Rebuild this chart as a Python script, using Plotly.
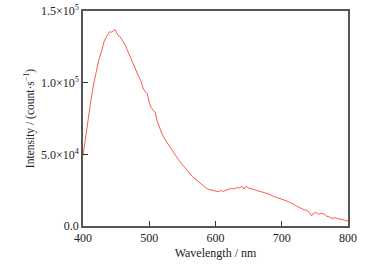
import plotly.graph_objects as go

wavelength = [400, 404, 408, 412, 416, 420, 424, 428, 432, 436, 440, 443, 446, 448, 450, 453, 456, 460, 464, 468,
              472, 476, 480, 484, 488, 491, 494, 497, 500, 503, 506, 509, 512, 516, 520, 525, 530, 535, 540, 545,
              550, 555, 560, 565, 570, 575, 580, 585, 590, 595, 600, 604, 608, 612, 616, 620, 624, 628, 632, 636,
              640, 643, 646, 650, 654, 658, 662, 666, 670, 674, 678, 682, 686, 690, 694, 698, 702, 706, 710, 714,
              718, 722, 726, 730, 734, 738, 742, 745, 748, 752, 756, 760, 764, 768, 772, 776, 780, 784, 788, 792,
              796, 800]
intensity = [49000, 63000, 76000, 88000, 99000, 108000, 116000, 122000, 129000, 132500, 135500, 135200, 136000, 137200, 135500, 133000, 132000, 129000, 126000, 121500,
             116800, 112500, 108600, 104500, 100500, 95500, 93500, 92300, 86000, 82500, 80800, 79400, 73000, 67500, 63500, 59600, 56000, 52600, 49000, 45600,
             42800, 39700, 37300, 34500, 32600, 30400, 28500, 26800, 25500, 24800, 24500, 24000, 24700, 24200, 25000, 25400, 26300, 25800, 26800, 26500,
             27600, 25800, 27700, 26500, 26000, 25300, 25000, 24600, 24000, 23500, 22600, 22100, 21000, 20400, 19500, 19300, 18200, 18000, 17000, 16000,
             15300, 14000, 13000, 12400, 11200, 11000, 9500, 7000, 9000, 9300, 8200, 8800, 8300, 6800, 6300, 5200, 5800, 5200, 4800, 4500,
             4200, 3500]

xtick_vals = [400, 500, 600, 700, 800]
ytick_vals = [0, 50000, 100000, 150000]
ytick_text = ["0.0", "5.0×10<sup>4</sup>", "1.0×10<sup>5</sup>", "1.5×10<sup>5</sup>"]

fig = go.Figure()
fig.add_trace(go.Scatter(x=wavelength, y=intensity, mode="lines",
                         line=dict(color="#ff5a4e", width=1), showlegend=False))

font = dict(family="Liberation Serif, Times New Roman, serif", size=12, color="#222")
fig.update_layout(
    width=390, height=271,
    margin=dict(l=83, r=42, t=11, b=45),
    paper_bgcolor="white", plot_bgcolor="white",
    font=font,
    xaxis=dict(range=[400, 800], tickvals=xtick_vals, ticks="inside", ticklen=5,
               tickcolor="#333", showline=True, linecolor="#555", linewidth=1.5, mirror=True,
               showgrid=False, zeroline=False, automargin=False,
               title=dict(text="Wavelength / nm", font=dict(size=12), standoff=4)),
    yaxis=dict(range=[0, 150000], tickvals=ytick_vals, ticktext=ytick_text, ticks="inside", ticklen=5,
               tickcolor="#333", showline=True, linecolor="#555", linewidth=1.5, mirror=True,
               showgrid=False, zeroline=False, automargin=False,
               title=dict(text="Intensity / (count·s<sup>−1</sup>)", font=dict(size=11.5), standoff=4)),
)
fig.write_html("out.html", config={"displayModeBar": False})

with open("out.html", encoding="utf-8") as f:
    html = f.read()
html = html.replace("<body>", '<body style="margin:0;padding:0">', 1)
with open("out.html", "w", encoding="utf-8") as f:
    f.write(html)
